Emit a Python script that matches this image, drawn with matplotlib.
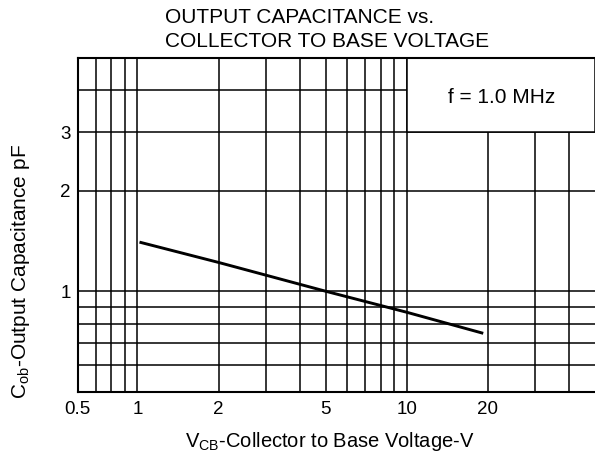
import matplotlib
matplotlib.use("Agg")
import matplotlib.pyplot as plt
from matplotlib.patches import Rectangle

plt.rcParams["font.family"] = ["Liberation Sans", "DejaVu Sans"]
plt.rcParams["mathtext.fontset"] = "custom"
plt.rcParams["mathtext.rm"] = "Liberation Sans"

# curve
vcb = [1.03, 2, 5, 10, 19]
cob = [1.40, 1.22, 1.0, 0.865, 0.75]

# grid and tick labels
x_grid = [0.7, 0.8, 0.9, 1, 2, 3, 4, 5, 6, 7, 8, 9, 10, 20, 30, 40]
y_grid = [0.6, 0.7, 0.8, 0.9, 1, 2, 3, 4]
x_ticks = [0.6, 1, 2, 5, 10, 20]
x_ticklabels = ["0.5", "1", "2", "5", "10", "20"]
y_ticks = [1, 2, 3]
y_ticklabels = ["1", "2", "3"]
xlim = (0.6, 50)
ylim = (0.5, 5)

fig = plt.figure(figsize=(5.95, 4.54), dpi=100)
ax = fig.add_axes([77.7 / 595, 1 - 391.7 / 454, 1 - 77.7 / 595, (391.7 - 58) / 454])
ax.set_xscale("log")
ax.set_yscale("log")
ax.set_xlim(*xlim)
ax.set_ylim(*ylim)

for x in x_grid:
    ax.axvline(x, color="black", lw=1.1, zorder=1)
for y in y_grid:
    ax.axhline(y, color="black", lw=1.1, zorder=1)

# box for the test condition covers the grid in the upper right
ax.add_patch(Rectangle((10, 3), xlim[1] - 10, ylim[1] - 3, facecolor="white",
                       edgecolor="black", lw=1.1, zorder=2))
ax.text(22.5, 3.8, "f = 1.0 MHz", ha="center", va="center", fontsize=15, zorder=3)

ax.plot(vcb, cob, color="black", lw=2.1, zorder=4)

ax.set_xticks(x_ticks)
ax.set_xticklabels(x_ticklabels)
ax.set_yticks(y_ticks)
ax.set_yticklabels(y_ticklabels)
ax.xaxis.set_minor_locator(plt.NullLocator())
ax.yaxis.set_minor_locator(plt.NullLocator())
ax.tick_params(length=0, labelsize=13.5, pad=7)
ax.tick_params(axis="y", pad=5)
for s in ["left", "bottom", "top"]:
    ax.spines[s].set_linewidth(1.5)
ax.spines["right"].set_visible(False)

fig.text(165 / 595, 1 - 17.5 / 454, "OUTPUT CAPACITANCE vs.", fontsize=15, ha="left", va="center")
fig.text(165 / 595, 1 - 41.5 / 454, "COLLECTOR TO BASE VOLTAGE", fontsize=15, ha="left", va="center")
fig.text(21 / 595, 1 - 272 / 454, r"C$_{\mathregular{ob}}$-Output Capacitance pF",
         rotation=90, fontsize=15, ha="center", va="center")
fig.text(185 / 595, 1 - 441.5 / 454, r"V$_{\mathregular{CB}}$-Collector to Base Voltage-V",
         fontsize=14.5, ha="left", va="center")

fig.savefig("out.png", dpi=100)
